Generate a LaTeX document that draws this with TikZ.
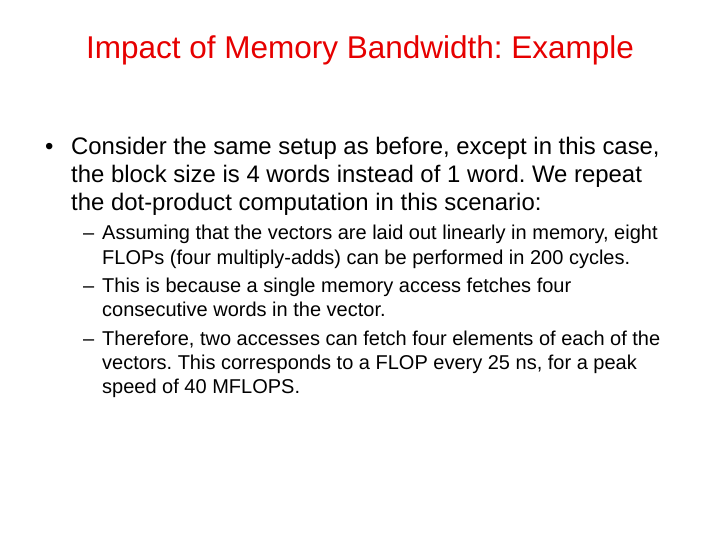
\documentclass[tikz,border=0pt]{standalone}
\usepackage{fontspec}
\setmainfont{Liberation Sans}
\definecolor{titlered}{RGB}{230,0,0}
\begin{document}
\frenchspacing
\begin{tikzpicture}[x=1pt,y=-1pt,
  ttl/.style={anchor=base,text=titlered,font=\fontsize{31.5}{36}\selectfont,inner sep=0},
  bl/.style={anchor=base west,font=\fontsize{23.9}{28}\selectfont,inner sep=0},
  sl/.style={anchor=base west,font=\fontsize{20}{23}\selectfont,inner sep=0}]
\useasboundingbox (0,0) rectangle (720,540);
\node[ttl] (title) at (360,59) {Impact of Memory Bandwidth: Example};
\node[bl] (b0) at (45,155) {•};
\node[bl] (b1) at (71,155) {Consider the same setup as before, except in this case,};
\node[bl] (b2) at (71,183) {the block size is 4 words instead of 1 word. We repeat};
\node[bl] (b3) at (71,211) {the dot-product computation in this scenario:};
\node[sl] (d1) at (83,240) {–};
\node[sl] (s1) at (102,240) {Assuming that the vectors are laid out linearly in memory, eight};
\node[sl] (s2) at (102,264) {FLOPs (four multiply-adds) can be performed in 200 cycles.};
\node[sl] (d2) at (83,292) {–};
\node[sl] (s3) at (102,292) {This is because a single memory access fetches four};
\node[sl] (s4) at (102,316) {consecutive words in the vector.};
\node[sl] (d3) at (83,345) {–};
\node[sl] (s5) at (102,345) {Therefore, two accesses can fetch four elements of each of the};
\node[sl] (s6) at (102,369) {vectors. This corresponds to a FLOP every 25 ns, for a peak};
\node[sl] (s7) at (102,393) {speed of 40 MFLOPS.};
\end{tikzpicture}
\end{document}
